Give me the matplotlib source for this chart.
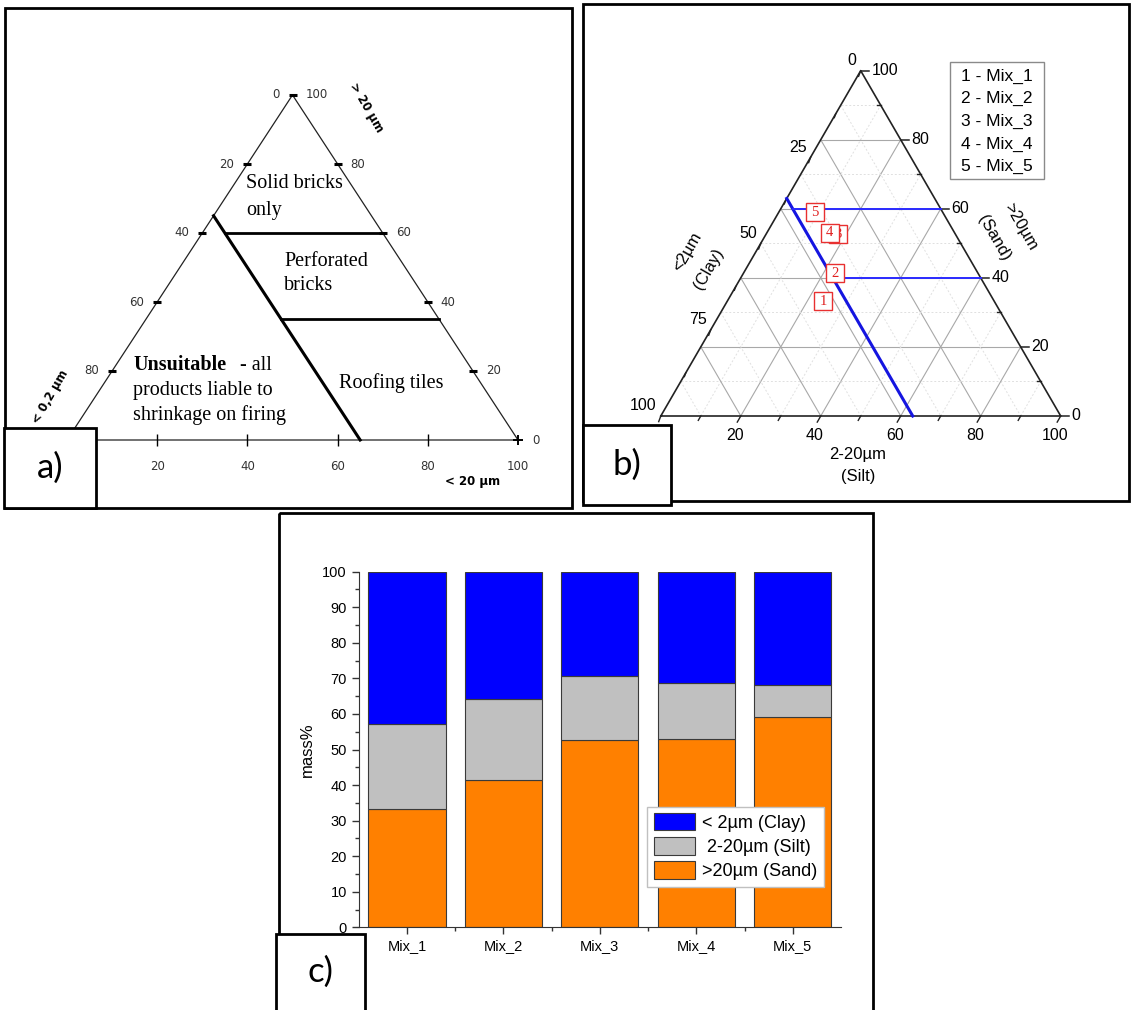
import matplotlib
matplotlib.use('Agg')
import matplotlib.pyplot as plt
from matplotlib.patches import Rectangle
import numpy as np

plt.rcParams['font.family'] = ['Liberation Sans', 'DejaVu Sans']

# ---- data ----
mixes = ['Mix_1', 'Mix_2', 'Mix_3', 'Mix_4', 'Mix_5']
sand = [33.3, 41.4, 52.7, 53.0, 59.0]    # > 20 um
silt = [24.0, 22.8, 18.0, 15.7, 9.1]     # 2-20 um
clay = [100 - a - b for a, b in zip(sand, silt)]  # < 2 um

fraction_labels = ['< 2\u00b5m (Clay)', ' 2-20\u00b5m (Silt)', '>20\u00b5m (Sand)']
fraction_colors = ['#0000ff', '#c0c0c0', '#ff8000']

# panel a: Winkler diagram limits
a_clay_limit = 35
a_sand_levels = [60, 35]
a_ticks = [20, 40, 60, 80]

# panel b: limits drawn over the mixes
b_clay_limit = 37
b_sand_levels = [60, 40]

W, H = 1131, 1010
fig = plt.figure(figsize=(W / 100, H / 100), dpi=100)
fig.patch.set_facecolor('white')
page = fig.add_axes([0, 0, 1, 1])
page.set_xlim(0, W)
page.set_ylim(H, 0)
page.axis('off')


def tern(verts, silt_v, sand_v):
    # ternary (silt, sand) in % -> page pixels
    bl, br, ap = [np.array(v, float) for v in verts]
    t = np.asarray(silt_v, float) / 100
    s = np.asarray(sand_v, float) / 100
    c = 1 - t - s
    return c * bl[0] + t * br[0] + s * ap[0], c * bl[1] + t * br[1] + s * ap[1]


def frame(x0, y0, x1, y1, lw=2.0, z=1, fill=False):
    page.add_patch(Rectangle((x0, y0), x1 - x0, y1 - y0, fill=fill, facecolor='white',
                             edgecolor='black', lw=lw, zorder=z))


# ---------------- panel a ----------------
frame(5, 8, 572, 508)
A = [(67, 440), (518, 440), (292.5, 95)]
x, y = tern(A, [0, 100, 0, 0], [0, 0, 100, 0])
page.plot(x, y, color='#222222', lw=0.9)

c = a_clay_limit
x, y = tern(A, [0, 100 - c], [100 - c, 0])
page.plot(x, y, color='black', lw=2.2)
for s in a_sand_levels:
    x, y = tern(A, [100 - c - s, 100 - s], [s, s])
    page.plot(x, y, color='black', lw=2.0)

# ticks
tl = [0] + a_ticks
x, y = tern(A, [0] * len(tl), [100 - v for v in tl])
page.plot(x, y, ls='none', marker='_', ms=6, mew=2.2, color='black')
for v, xx, yy in zip(tl, x, y):
    page.text(xx - 13, yy, str(v), ha='right', va='center', fontsize=8.5,
              family='DejaVu Sans', color='#333333')
tr = [100] + a_ticks[::-1]
x, y = tern(A, [100 - v for v in a_ticks[::-1]], a_ticks[::-1])
page.plot(x, y, ls='none', marker='_', ms=6, mew=2.2, color='black')
x, y = tern(A, [100 - v for v in tr], tr)
for v, xx, yy in zip(tr, x, y):
    page.text(xx + 13, yy, str(v), ha='left', va='center', fontsize=8.5,
              family='DejaVu Sans', color='#333333')
x, y = tern(A, a_ticks, [0] * len(a_ticks))
page.plot(x, y, ls='none', marker='|', ms=8, mew=1.0, color='black')
x, y = tern(A, [100], [0])
page.plot(x, y, ls='none', marker='+', ms=7, mew=1.4, color='black')
page.text(x[0] + 14, y[0] + 1, '0', ha='left', va='center', fontsize=8.5,
          family='DejaVu Sans', color='#333333')
x, y = tern(A, a_ticks + [100], [0] * 5)
for v, xx in zip(a_ticks + [100], x):
    page.text(xx, 466, str(v), ha='center', va='center', fontsize=8.5,
              family='DejaVu Sans', color='#333333')

page.text(366, 108, '> 20 \u00b5m', rotation=-60, ha='center', va='center', fontsize=8.5,
          family='DejaVu Sans', fontweight='bold')
page.text(50, 397, '< 0,2 \u00b5m', rotation=60, ha='center', va='center', fontsize=8.5,
          family='DejaVu Sans', fontweight='bold')
page.text(473, 481, '< 20 \u00b5m', ha='center', va='center', fontsize=8.5,
          family='DejaVu Sans', fontweight='bold')

serif = dict(family='Liberation Serif', fontsize=14.5, va='center', ha='left')
page.text(246, 184, 'Solid bricks', **serif)
page.text(246, 210, 'only', **serif)
page.text(284, 261, 'Perforated', **serif)
page.text(284, 286, 'bricks', **serif)
page.text(339, 383, 'Roofing tiles', **serif)
t1 = page.text(133, 365, 'Unsuitable', fontweight='bold', **serif)
page.annotate('- all', xy=(1, 0.5), xycoords=t1, xytext=(10, 0), textcoords='offset points',
              family='Liberation Serif', fontsize=14.5, va='center', ha='left')
page.text(133, 390, 'products liable to', **serif)
page.text(133, 415, 'shrinkage on firing', **serif)

# ---------------- panel b ----------------
frame(583, 4, 1129, 501)
B = [(660.8, 416), (1060.7, 416), (860.7, 70.7)]
for v in range(10, 100, 10):
    kw = dict(color='#a8a8a8', lw=0.8) if v % 20 == 0 else dict(color='#e0e0e0', lw=0.7, ls=(0, (2, 2)))
    page.plot(*tern(B, [0, 100 - v], [v, v]), **kw)
    page.plot(*tern(B, [0, 100 - v], [100 - v, 0]), **kw)
    page.plot(*tern(B, [v, v], [0, 100 - v]), **kw)
page.plot(*tern(B, [0, 100, 0, 0], [0, 0, 100, 0]), color='#222222', lw=1.2)

# right axis (sand) ticks
for v in range(0, 101, 10):
    xx, yy = tern(B, [100 - v], [v])
    if v % 20 == 0:
        page.plot([xx[0], xx[0] + 8], [yy[0], yy[0]], color='#222222', lw=1.1)
        page.text(xx[0] + 11, yy[0], str(v), ha='left', va='center', fontsize=11.5)
    else:
        page.plot([xx[0], xx[0] - 4], [yy[0], yy[0]], color='#222222', lw=1.0)
# left axis (clay) ticks
for v in np.arange(0, 100.1, 12.5):
    xx, yy = tern(B, [0], [100 - v])
    L = 6 if v % 25 == 0 else 4
    page.plot([xx[0], xx[0] - 0.35 * L], [yy[0], yy[0] + 0.94 * L], color='#222222', lw=1.0)
    if v % 25 == 0:
        page.text(xx[0] - 4, yy[0] - 10, '%d' % v, ha='right', va='center', fontsize=11.5)
# bottom axis (silt) ticks
for v in range(10, 101, 10):
    xx, yy = tern(B, [v], [0])
    L = 7 if v % 20 == 0 else 5
    page.plot([xx[0], xx[0] - 0.5 * L], [yy[0], yy[0] + 0.87 * L], color='#222222', lw=1.0)
    if v % 20 == 0:
        page.text(xx[0] - 6, 436, str(v), ha='center', va='center', fontsize=11.5)

page.text(858, 454, '2-20\u00b5m', ha='center', va='center', fontsize=12)
page.text(858, 477, '(Silt)', ha='center', va='center', fontsize=12)
page.text(687, 252, '<2\u00b5m', rotation=60, ha='center', va='center', fontsize=12)
page.text(709, 269, '(Clay)', rotation=60, ha='center', va='center', fontsize=12)
page.text(1021, 227, '>20\u00b5m', rotation=-60, ha='center', va='center', fontsize=12)
page.text(994, 238, '(Sand)', rotation=-60, ha='center', va='center', fontsize=12)

cb = b_clay_limit
page.plot(*tern(B, [0, 100 - cb], [100 - cb, 0]), color='#1515e0', lw=2.2, zorder=4)
for s in b_sand_levels:
    page.plot(*tern(B, [100 - cb - s, 100 - s], [s, s]), color='#2a2aff', lw=1.4, zorder=4)

mx, my = tern(B, silt, sand)
for i, (xx, yy) in enumerate(zip(mx, my)):
    page.plot(xx, yy, marker='s', ms=12.5, mfc='white', mec='#e83030', mew=1.0, zorder=5 + i)
    page.text(xx, yy, str(i + 1), ha='center', va='center', color='#e02020', fontsize=10.5,
              family='Liberation Serif', zorder=5 + i)

page.add_patch(Rectangle((949.6, 61.7), 94.2, 117.3, fill=False, edgecolor='#8a8a8a', lw=1.0))
for i, m in enumerate(mixes):
    page.text(996.7, 76 + 22.7 * i, '%d - %s' % (i + 1, m), ha='center', va='center', fontsize=12.5)

# ---------------- panel c ----------------
frame(279, 513, 873, 1030)
ax = fig.add_axes([358.7 / W, (H - 927.3) / H, (841 - 358.7) / W, (927.3 - 571.7) / H])
xpos = np.arange(len(mixes))
b_sand = ax.bar(xpos, sand, 0.8, color=fraction_colors[2], edgecolor='#3a3a3a', lw=0.8)
b_silt = ax.bar(xpos, silt, 0.8, bottom=sand, color=fraction_colors[1], edgecolor='#3a3a3a', lw=0.8)
b_clay = ax.bar(xpos, clay, 0.8, bottom=np.add(sand, silt), color=fraction_colors[0],
                edgecolor='#3a3a3a', lw=0.8)
ax.set_xlim(-0.5, 4.5)
ax.set_ylim(0, 100)
ax.set_xticks(xpos)
ax.set_xticklabels(mixes)
ax.set_xticks(xpos[:-1] + 0.5, minor=True)
ax.set_yticks(range(0, 101, 10))
ax.set_yticks(range(5, 100, 10), minor=True)
ax.tick_params(which='major', length=5, width=1, labelsize=10.5, color='#333333')
ax.tick_params(which='minor', length=3, width=1, color='#333333')
for sp in ['top', 'right']:
    ax.spines[sp].set_visible(False)
for sp in ['left', 'bottom']:
    ax.spines[sp].set_color('#333333')
ax.set_ylabel('mass%', fontsize=12)
ax.yaxis.set_label_coords(-0.091, 0.5)
ax.legend([b_clay, b_silt, b_sand], fraction_labels, loc='upper left',
          bbox_to_anchor=(647.4 / W, 1 - 806.7 / H), bbox_transform=fig.transFigure,
          fontsize=13, fancybox=False, edgecolor='#c0c0c0', framealpha=1,
          handlelength=2.3, handleheight=1.1, borderaxespad=0, borderpad=0.35,
          labelspacing=0.3, handletextpad=0.4)

# ---------------- panel labels ----------------
for lab, (x0, y0, x1, y1) in zip(['a)', 'b)', 'c)'],
                                  [(4, 428, 96, 508), (583, 425, 671, 505), (276, 934, 365, 1015)]):
    frame(x0, y0, x1, y1, lw=2.0, z=20, fill=True)
    page.text((x0 + x1) / 2, min((y0 + y1) / 2, 972), lab, ha='center', va='center',
              fontsize=25, family='Lato', zorder=21)

fig.savefig('out.png', dpi=100)
